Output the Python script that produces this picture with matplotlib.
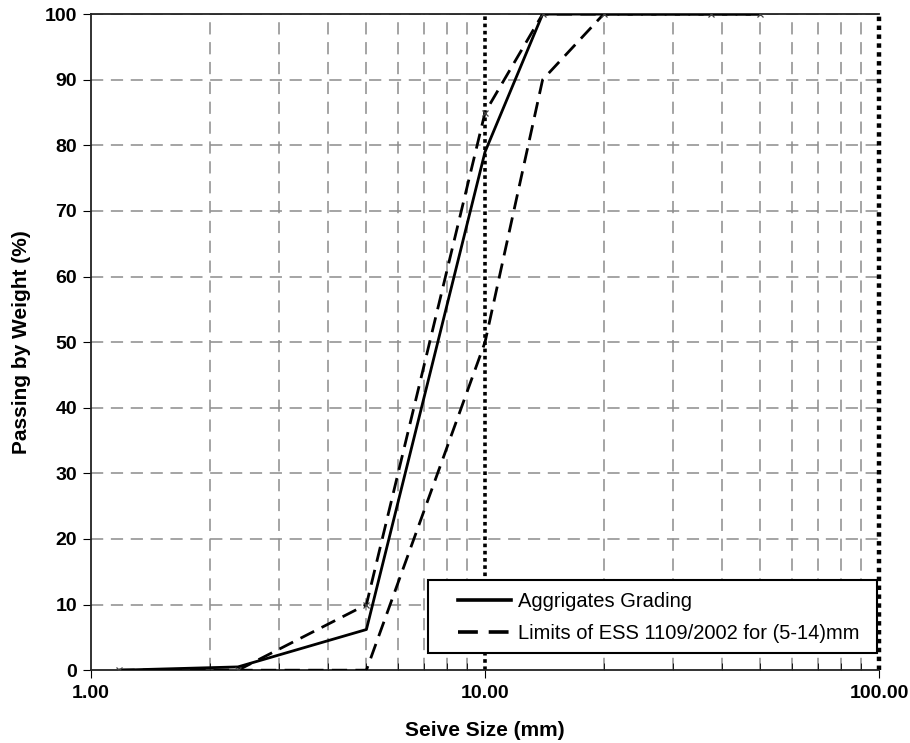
"""Sieve analysis chart: aggregate grading vs ESS 1109/2002 limits (5-14 mm)."""

import matplotlib

matplotlib.use("Agg")
import matplotlib.pyplot as plt
from matplotlib.patches import Rectangle
from matplotlib.ticker import FixedLocator, NullFormatter

plt.rcParams["font.family"] = ["Liberation Sans", "DejaVu Sans"]

# sieve sizes (mm) and passing (%)
sieve = [1.18, 2.36, 5.0, 10.0, 14.0, 20.0, 37.5, 50.0]
grading = [0.0, 0.5, 6.2, 79.0, 100.0, 100.0, 100.0, 100.0]
upper_limit = [0.0, 0.0, 10.0, 85.0, 100.0, 100.0, 100.0, 100.0]
lower_limit = [0.0, 0.0, 0.0, 50.0, 90.0, 100.0, 100.0, 100.0]

y_ticks = list(range(0, 101, 10))
x_major = [1, 10, 100]
x_major_labels = ["1.00", "10.00", "100.00"]
x_minor = [2, 3, 4, 5, 6, 7, 8, 9, 20, 30, 40, 50, 60, 70, 80, 90]

fig = plt.figure(figsize=(9.10, 7.43), dpi=100)
ax = fig.add_axes([0.100, 0.098, 0.866, 0.883])

ax.set_xscale("log")
ax.set_xlim(1, 100)
ax.set_ylim(0, 100)

# grid
for yv in y_ticks[1:]:
    ax.axhline(yv, color="#8c8c8c", lw=1.1, ls=(0, (8, 5)), zorder=0)
for xv in x_minor:
    ax.axvline(xv, color="#8c8c8c", lw=1.1, ls=(0, (8, 5)), zorder=0)
ax.axvline(10, color="black", lw=2.6, ls=(0, (1, 1)), zorder=1)
ax.axvline(100, color="black", lw=3.2, ls=(0, (1, 1)), zorder=1, clip_on=False)

ax.plot(sieve, grading, color="black", lw=2.0, label="Aggrigates Grading",
        zorder=3)
ax.plot(sieve, upper_limit, color="black", lw=2.0, ls=(0, (5.5, 3)),
        label="Limits of ESS 1109/2002 for (5-14)mm", zorder=3)
ax.plot(sieve, lower_limit, color="black", lw=2.0, ls=(0, (5.5, 3)), zorder=3)
ax.plot(sieve, upper_limit, ls="none", marker="x", ms=5, mew=0.9,
        color="#444444", zorder=4)

ax.spines["right"].set_visible(False)
for s in ("left", "bottom", "top"):
    ax.spines[s].set_linewidth(1.3)
    ax.spines[s].set_color("#222222")

ax.xaxis.set_major_locator(FixedLocator(x_major))
ax.set_xticklabels(x_major_labels)
ax.xaxis.set_minor_locator(FixedLocator(x_minor))
ax.xaxis.set_minor_formatter(NullFormatter())
ax.tick_params(axis="x", which="major", direction="out", length=6, pad=5)
ax.tick_params(axis="x", which="minor", direction="in", length=5)
ax.set_yticks(y_ticks)
ax.tick_params(axis="y", direction="out", length=6, pad=4)
for lab in ax.get_xticklabels() + ax.get_yticklabels():
    lab.set_fontweight("bold")
    lab.set_fontsize(14)

ax.set_xlabel("Seive Size (mm)", fontsize=15, fontweight="bold", labelpad=13)
ax.set_ylabel("Passing by Weight (%)", fontsize=15, fontweight="bold",
              labelpad=10)

# legend box drawn separately so the entries can sit further in
ax.add_patch(Rectangle((0.428, 0.026), 0.5695, 0.111, transform=ax.transAxes,
                       facecolor="white", edgecolor="black", lw=1.5,
                       zorder=5))
leg = ax.legend(loc="center left", bbox_to_anchor=(0.466, 0.0805),
                frameon=False, borderaxespad=0, fontsize=14.5,
                handlelength=2.6, handletextpad=0.35, labelspacing=0.65,
                borderpad=0)
leg.set_zorder(6)
for h in leg.legend_handles:
    h.set_linewidth(2.6)

fig.savefig("out.png", dpi=100)
